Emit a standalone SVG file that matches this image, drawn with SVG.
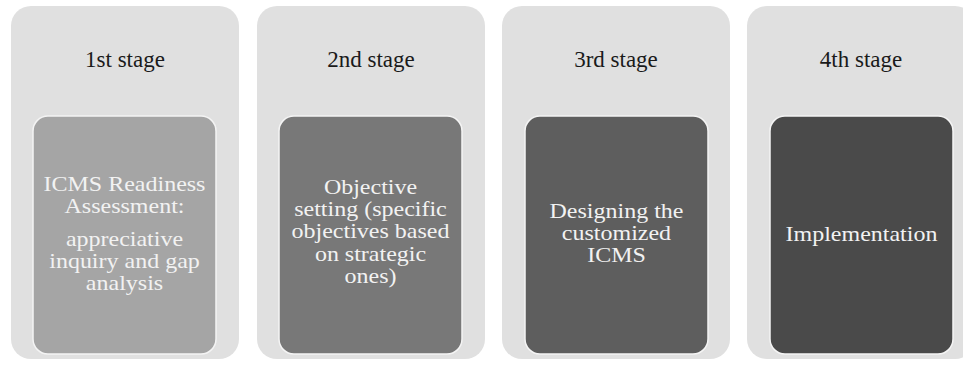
<svg xmlns="http://www.w3.org/2000/svg" width="963" height="369" viewBox="0 0 963 369">
<style>
.panel{fill:#e0e0e0;}
.box{stroke:#f4f4f4;stroke-width:1.5;}
.head{font-family:"Liberation Serif","Times New Roman",serif;font-size:23px;fill:#1a1a1a;text-anchor:middle;}
.body{font-family:"Liberation Serif","Times New Roman",serif;font-size:20px;fill:#f2f2f2;text-anchor:middle;}
</style>
<rect width="963" height="369" fill="#ffffff"/>
<g id="stage1">
<rect class="panel" x="11" y="6" width="228" height="353" rx="20"/>
<text class="head" x="125" y="67">1st stage</text>
<rect class="box" x="33" y="116" width="183" height="238" rx="15" fill="#a5a5a5"/>
<g transform="translate(124.5,0) scale(1.2,1)">
<text class="body" x="0" y="191">ICMS Readiness</text>
<text class="body" x="0" y="213.2">Assessment:</text>
<text class="body" x="0" y="246">appreciative</text>
<text class="body" x="0" y="268.2">inquiry and gap</text>
<text class="body" x="0" y="290.4">analysis</text>
</g>
</g>
<g id="stage2">
<rect class="panel" x="257" y="6" width="228" height="353" rx="20"/>
<text class="head" x="371" y="67">2nd stage</text>
<rect class="box" x="279" y="116" width="183" height="238" rx="15" fill="#787878"/>
<g transform="translate(370.5,0) scale(1.2,1)">
<text class="body" x="0" y="194">Objective</text>
<text class="body" x="0" y="216.2">setting (specific</text>
<text class="body" x="0" y="238.4">objectives based</text>
<text class="body" x="0" y="260.6">on strategic</text>
<text class="body" x="0" y="282.8">ones)</text>
</g>
</g>
<g id="stage3">
<rect class="panel" x="502" y="6" width="228" height="353" rx="20"/>
<text class="head" x="616" y="67">3rd stage</text>
<rect class="box" x="525" y="116" width="183" height="238" rx="15" fill="#5e5e5e"/>
<g transform="translate(616.5,0) scale(1.2,1)">
<text class="body" x="0" y="218">Designing the</text>
<text class="body" x="0" y="240.2">customized</text>
<text class="body" x="0" y="262.4">ICMS</text>
</g>
</g>
<g id="stage4">
<rect class="panel" x="747" y="6" width="228" height="353" rx="20"/>
<text class="head" x="861" y="67">4th stage</text>
<rect class="box" x="770" y="116" width="183" height="238" rx="15" fill="#4a4a4a"/>
<g transform="translate(861.5,0) scale(1.2,1)">
<text class="body" x="0" y="241">Implementation</text>
</g>
</g>
<g id="connectors"/>
</svg>
